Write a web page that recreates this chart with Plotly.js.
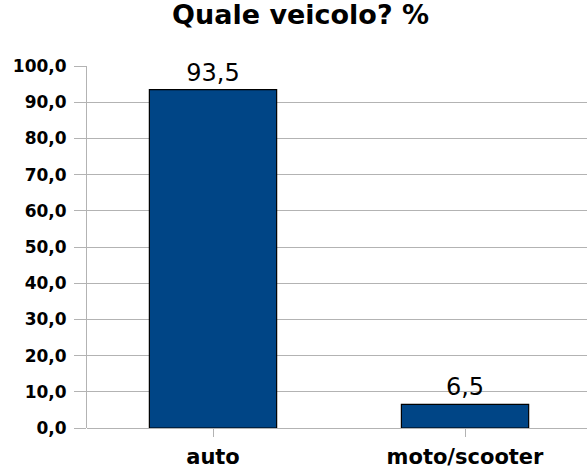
<!DOCTYPE html>
<html><head><meta charset="utf-8">
<script src="https://cdn.plot.ly/plotly-3.0.1.min.js"></script>
<style>html,body{margin:0;padding:0;background:#fff}</style>
</head><body>
<div id="chart" style="width:587px;height:473px"></div>
<script>
const categories = ["auto", "moto/scooter"];
const values = [93.5, 6.5];
const titleText = "Quale veicolo? %";

Plotly.newPlot("chart", [{
  type: "bar",
  x: categories,
  y: values,
  width: 0.505,
  marker: {color: "#004586", line: {color: "#000000", width: 1.2}},
  texttemplate: "%{y:.1f}",
  textposition: "outside",
  cliponaxis: false,
  textfont: {family: "DejaVu Sans", size: 24, color: "#000"},
  hoverinfo: "skip"
}], {
  width: 587, height: 473,
  margin: {l: 87, r: 0, t: 66, b: 45, pad: 0},
  separators: ",.",
  paper_bgcolor: "#fff", plot_bgcolor: "#fff",
  title: {text: titleText, x: 0.512, xanchor: "center", y: 0.99, yanchor: "top",
    font: {family: "DejaVu Sans", size: 27, color: "#000", weight: "bold"}},
  showlegend: false,
  xaxis: {
    range: [-0.5, 1.484], showgrid: false, zeroline: false,
    ticks: "outside", ticklen: 8, tickcolor: "#b3b3b3", tickwidth: 1,
    showline: false,
    tickfont: {family: "DejaVu Sans", size: 21, color: "#000", weight: "bold"},
    ticklabelstandoff: 2
  },
  yaxis: {
    range: [0, 100], dtick: 10, tickformat: ".1f",
    showgrid: true, gridcolor: "#b3b3b3", gridwidth: 1,
    zeroline: true, zerolinecolor: "#b3b3b3", zerolinewidth: 1,
    showline: true, linecolor: "#b3b3b3", linewidth: 1,
    ticks: "outside", ticklen: 12, tickcolor: "#b3b3b3", tickwidth: 1,
    ticklabelstandoff: 4,
    tickfont: {family: "DejaVu Sans", size: 17, color: "#000", weight: "bold"}
  }
}, {staticPlot: true});
</script>
</body></html>
